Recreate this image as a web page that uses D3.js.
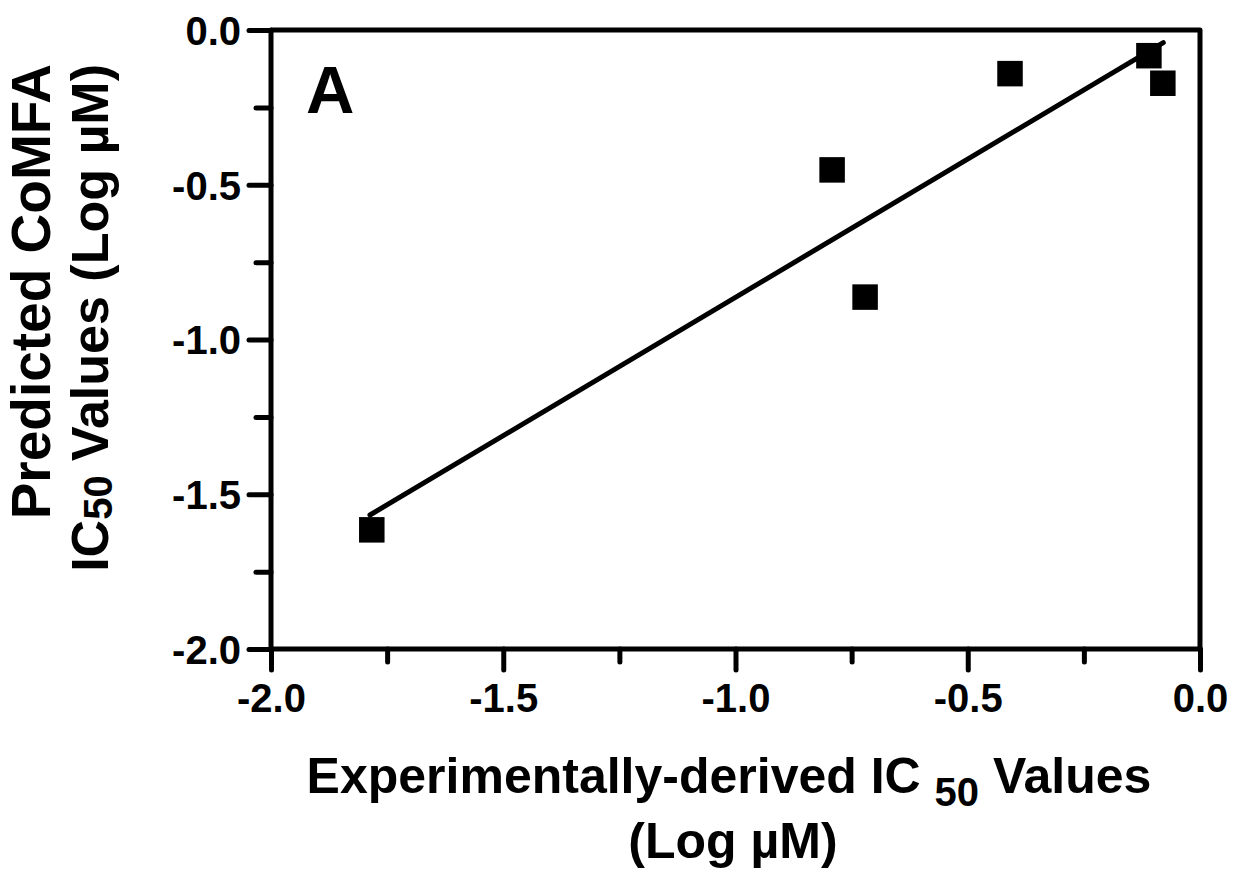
<!DOCTYPE html>
<html>
<head>
<meta charset="utf-8">
<script src="https://cdn.jsdelivr.net/npm/d3@7"></script>
<style>
  html, body { margin: 0; padding: 0; background: #fff; }
  svg { display: block; }
  text { font-family: "Liberation Sans", Arial, Helvetica, sans-serif; font-weight: bold; fill: #000; }
</style>
</head>
<body>
<svg id="chart" width="1233" height="874"></svg>
<script>
// Data
const expIC50 = [-1.783, -0.792, -0.721, -0.409, -0.110, -0.080];
const predIC50 = [-1.615, -0.452, -0.863, -0.141, -0.083, -0.172];
const fitX = [-1.787, -0.079];
const fitY = [-1.567, -0.041];
const xMajorTicks = [-2.0, -1.5, -1.0, -0.5, 0.0];
const xMinorTicks = [-1.75, -1.25, -0.75, -0.25];
const yMajorTicks = [-2.0, -1.5, -1.0, -0.5, 0.0];
const yMinorTicks = [-1.75, -1.25, -0.75, -0.25];
const panelLabel = "A";

(function () {
const svg = d3.select("#chart");
const pL = 271, pR = 1200, pT = 30, pB = 649;
const x = d3.scaleLinear().domain([-2, 0]).range([pL, pR]);
const y = d3.scaleLinear().domain([-2, 0]).range([pB, pT]);
const fmt = v => (v < 0 ? "-" : "") + Math.abs(v).toFixed(1);
const SW = 5;

// frame (top + right)
svg.append("path")
  .attr("d", `M${pL},${pT}H${pR}V${pB}`)
  .attr("fill", "none").attr("stroke", "#000").attr("stroke-width", SW)
  .attr("stroke-linejoin", "round");

// X axis
const xAxis = d3.axisBottom(x).tickValues(xMajorTicks).tickSize(21).tickPadding(2).tickFormat(fmt);
const gx = svg.append("g").attr("transform", `translate(0,${pB})`).call(xAxis);
gx.select(".domain").attr("d", `M${pL},0H${pR}`).attr("stroke-width", SW).attr("stroke-linecap", "round");
gx.selectAll(".tick line").attr("stroke-width", SW).attr("stroke-linecap", "round");
gx.selectAll(".tick text").attr("font-size", 40).attr("font-family", "Liberation Sans, Arial, sans-serif")
  .attr("font-weight", "bold").attr("y", 0).attr("dy", 0).attr("transform", "translate(0,63)");
const gxm = svg.append("g").attr("transform", `translate(0,${pB})`)
  .call(d3.axisBottom(x).tickValues(xMinorTicks).tickSize(13).tickFormat(""));
gxm.select(".domain").remove();
gxm.selectAll(".tick line").attr("stroke-width", SW).attr("stroke-linecap", "round");

// Y axis
const yAxis = d3.axisLeft(y).tickValues(yMajorTicks).tickSize(22).tickPadding(8).tickFormat(fmt);
const gy = svg.append("g").attr("transform", `translate(${pL},0)`).call(yAxis);
gy.select(".domain").attr("d", `M0,${pT}V${pB}`).attr("stroke-width", SW).attr("stroke-linecap", "round");
gy.selectAll(".tick line").attr("stroke-width", SW).attr("stroke-linecap", "round");
gy.selectAll(".tick text").attr("font-size", 40).attr("font-family", "Liberation Sans, Arial, sans-serif")
  .attr("font-weight", "bold").attr("dy", "0.36em");
const gym = svg.append("g").attr("transform", `translate(${pL},0)`)
  .call(d3.axisLeft(y).tickValues(yMinorTicks).tickSize(15).tickFormat(""));
gym.select(".domain").remove();
gym.selectAll(".tick line").attr("stroke-width", SW).attr("stroke-linecap", "round");

// regression line
const fit = fitX.map((v, i) => [v, fitY[i]]);
svg.append("path")
  .attr("d", d3.line().x(d => x(d[0])).y(d => y(d[1]))(fit))
  .attr("fill", "none").attr("stroke", "#000").attr("stroke-width", SW).attr("stroke-linecap", "round");

// points (squares)
const pts = expIC50.map((v, i) => [v, predIC50[i]]);
const sq = 25.5;
svg.append("g").selectAll("rect").data(pts).join("rect")
  .attr("x", d => x(d[0]) - sq / 2).attr("y", d => y(d[1]) - sq / 2)
  .attr("width", sq).attr("height", sq).attr("fill", "#000");

// panel label
svg.append("text").attr("x", 306).attr("y", 113).attr("font-size", 67).text(panelLabel);

// X title
const xt1 = svg.append("text").attr("x", 729).attr("y", 793).attr("font-size", 50).attr("text-anchor", "middle");
xt1.append("tspan").text("Experimentally-derived IC ");
xt1.append("tspan").attr("font-size", 40).attr("dy", 13).text("50");
xt1.append("tspan").attr("dy", -13).text(" Values");
svg.append("text").attr("x", 733).attr("y", 858).attr("font-size", 50).attr("text-anchor", "middle").text("(Log µM)");

// Y title
svg.append("text").attr("transform", "translate(50,64) rotate(-90)").attr("font-size", 55)
  .attr("text-anchor", "end").text("Predicted CoMFA");
const yt2 = svg.append("text").attr("transform", "translate(108,64) rotate(-90)").attr("font-size", 52)
  .attr("text-anchor", "end");
yt2.append("tspan").text("IC");
yt2.append("tspan").attr("font-size", 40).attr("dy", 4).text("50");
yt2.append("tspan").attr("dy", -4).text(" Values (Log µM)");
})();
</script>
</body>
</html>
